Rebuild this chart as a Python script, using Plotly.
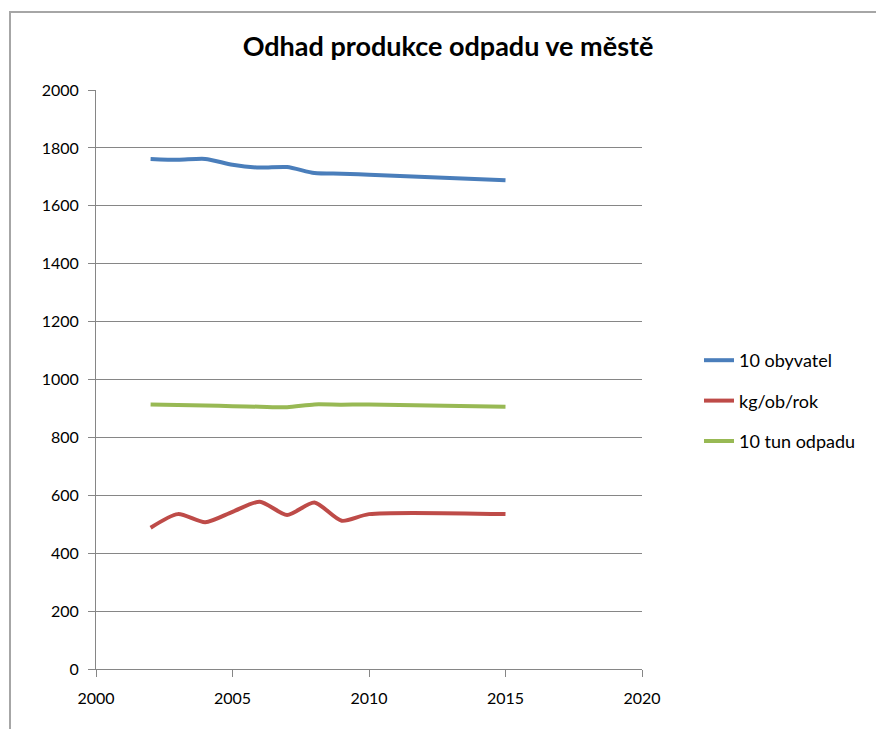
import plotly.graph_objects as go

years = [2002, 2003, 2004, 2005, 2006, 2007, 2008, 2009, 2010, 2015]
obyvatel = [1762, 1759, 1762, 1742, 1732, 1734, 1713, 1711, 1707, 1688]
kg_ob_rok = [488, 535, 507, 543, 578, 532, 575, 512, 535, 535]
tun_odpadu = [914, 912, 910, 908, 906, 904, 914, 913, 914, 906]

series = [
    ("10 obyvatel", obyvatel, "#4a7ebb"),
    ("kg/ob/rok", kg_ob_rok, "#be4b48"),
    ("10 tun odpadu", tun_odpadu, "#98b954"),
]

fig = go.Figure()
for i, (name, vals, col) in enumerate(series):
    fig.add_trace(go.Scatter(
        x=years, y=vals, name=name, mode="lines",
        line=dict(color=col, width=4, shape="spline", smoothing=0.7),
        legendgroup=f"g{i}",
    ))

L, R, T, B = 96, 234, 90, 60
W, H = 876, 729
pw, ph = W - L - R, H - T - B

def px_x(px):
    return (px - L) / pw

def px_y(py):
    return (H - B - py) / ph

fig.add_shape(type="path", xref="paper", yref="paper",
              path=f"M {px_x(10)} {px_y(729)} L {px_x(10)} {px_y(12)} L {px_x(880)} {px_y(12)}",
              line=dict(color="#a6a6a6", width=2))

font = "Lato, 'Open Sans', sans-serif"
fig.update_layout(
    width=W, height=H,
    margin=dict(l=L, r=R, t=T, b=B),
    paper_bgcolor="white", plot_bgcolor="white",
    title=dict(text="<b>Odhad produkce odpadu ve městě</b>", x=448 / W,
               xanchor="center", y=1 - 47 / H, yanchor="middle",
               font=dict(family=font, size=27, color="black")),
    font=dict(family=font, size=16, color="black"),
    xaxis=dict(range=[2000, 2020], tickvals=[2000, 2005, 2010, 2015, 2020],
               showgrid=False, showline=True, linecolor="#868686", linewidth=1,
               ticks="outside", ticklen=7, tickcolor="#868686", zeroline=False,
               tickfont=dict(family=font, size=16), ticklabelstandoff=8),
    yaxis=dict(range=[0, 2000], tickvals=list(range(0, 2001, 200)),
               showgrid=True, gridcolor="#868686", gridwidth=1,
               showline=True, linecolor="#868686", linewidth=1,
               ticks="outside", ticklen=7, tickcolor="#868686", zeroline=False,
               tickfont=dict(family=font, size=16), ticklabelstandoff=6),
    legend=dict(x=px_x(699), xanchor="left", y=px_y(401), yanchor="middle",
                font=dict(family=font, size=18), tracegroupgap=14,
                traceorder="grouped", bgcolor="rgba(0,0,0,0)"),
    showlegend=True,
)

fig.write_html("out.html")
